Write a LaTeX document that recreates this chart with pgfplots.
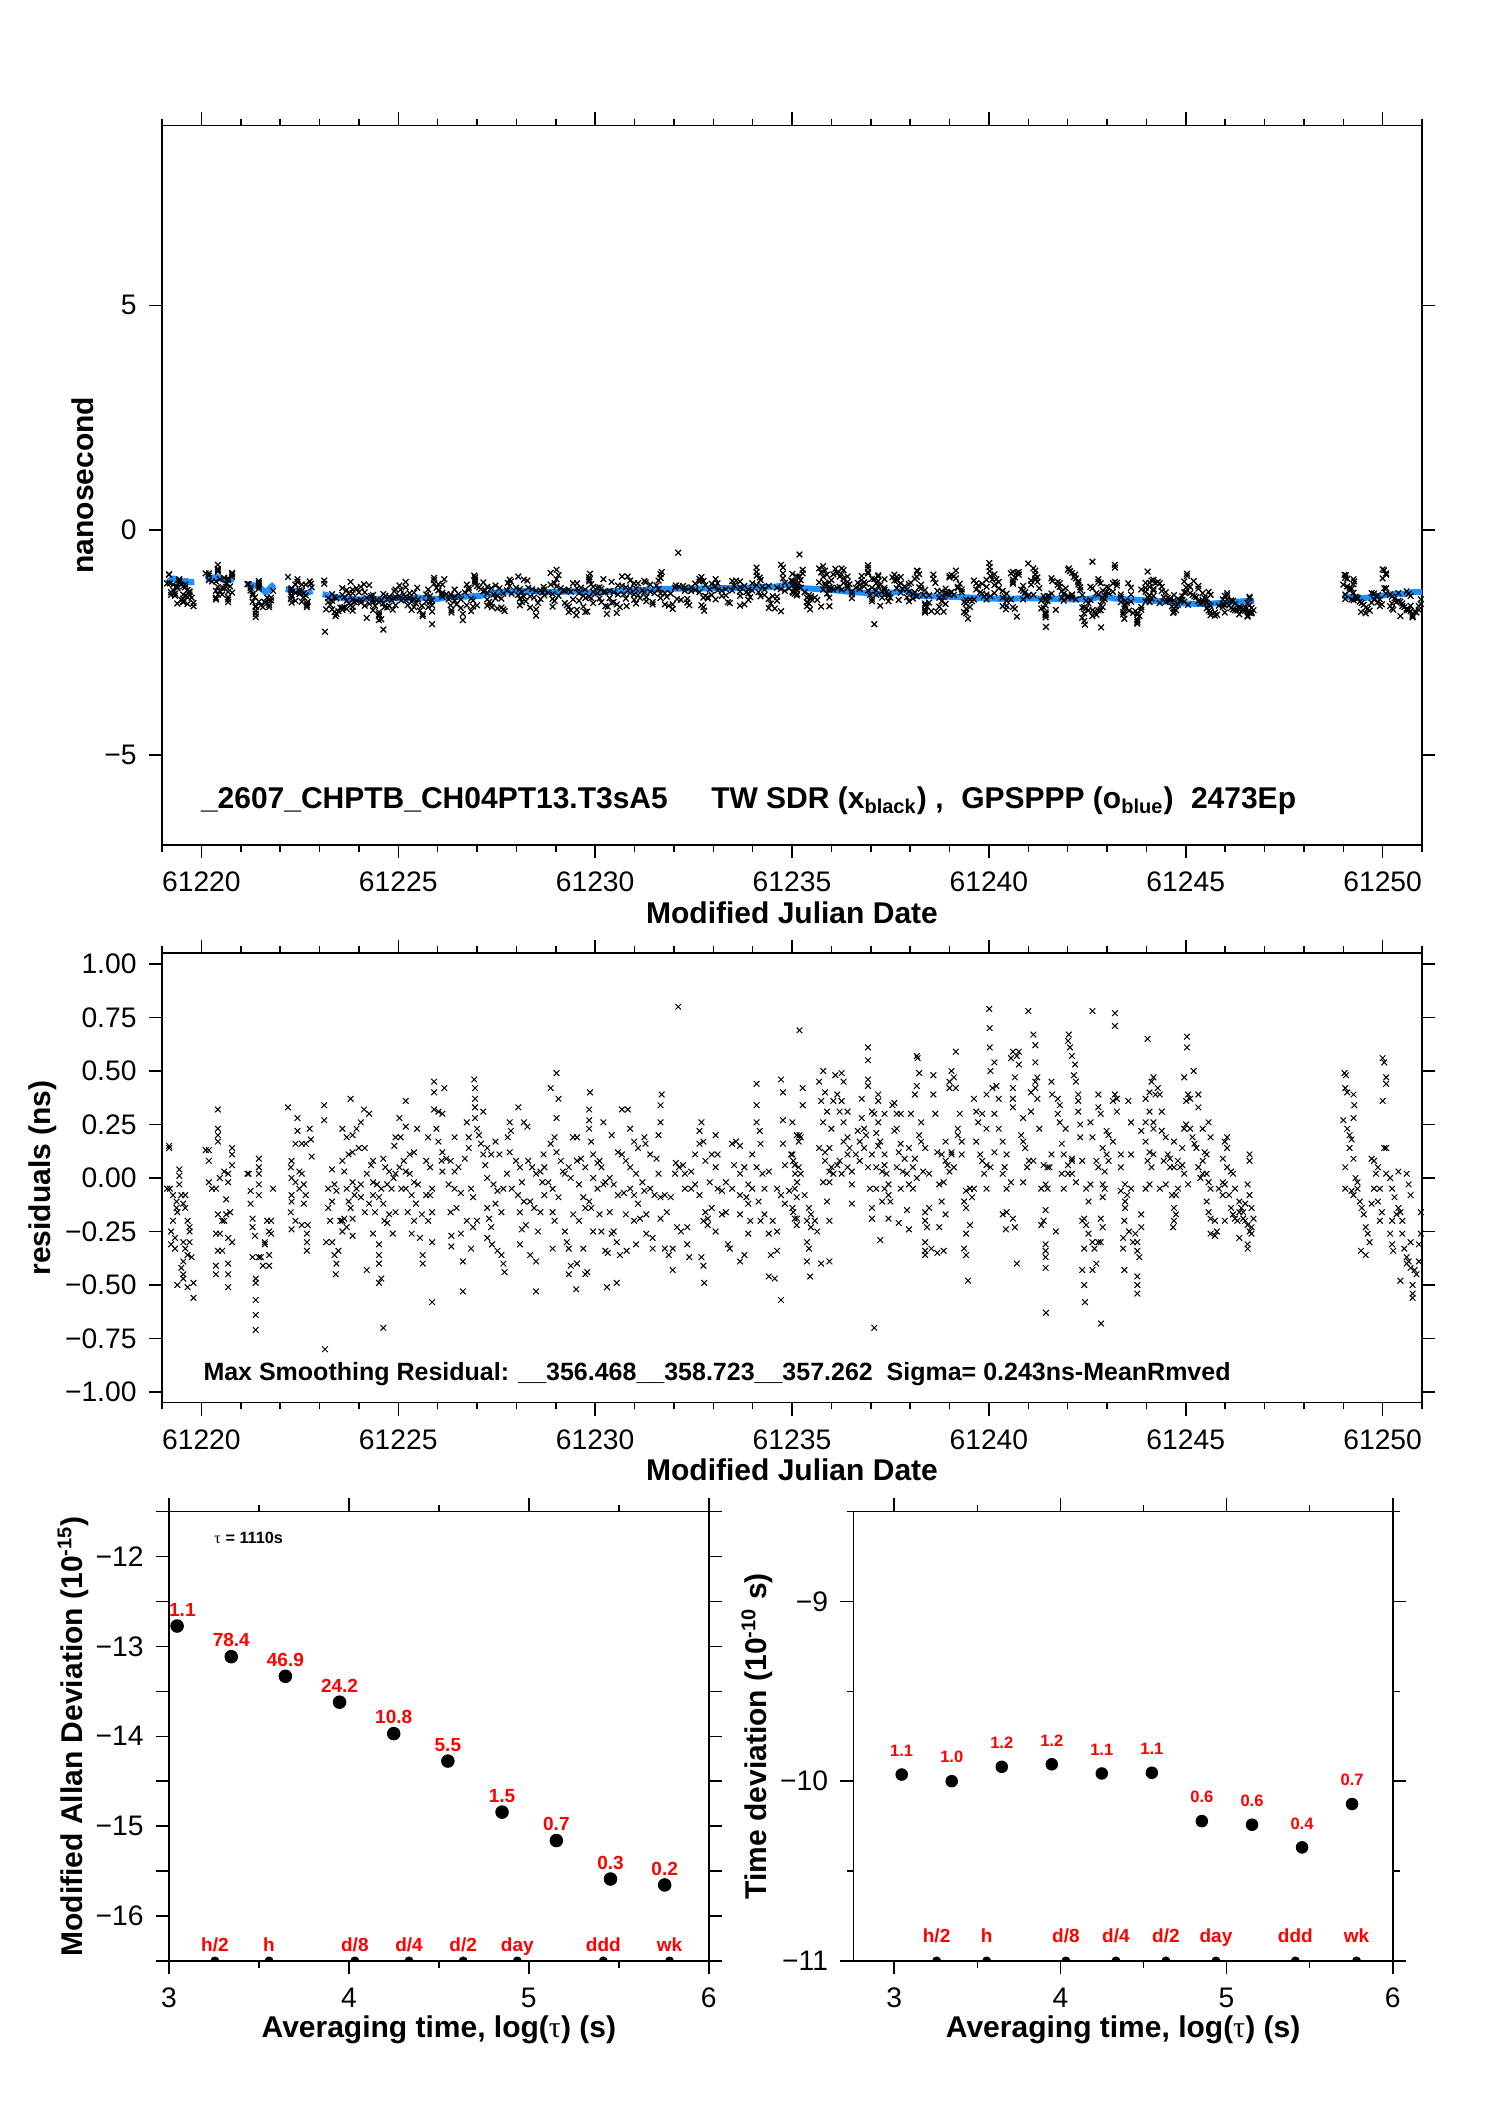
\documentclass[border=0pt]{standalone}
\usepackage{pgfplots}
\pgfplotsset{compat=1.18}
\usepackage{pgfplotstable}
\usepackage{fontspec}
\setmainfont{Liberation Sans}
\newfontfamily\serifg{Liberation Serif}
\definecolor{dodger}{RGB}{30,144,255}

% x = MJD, r = residual (ns), s = smoothed GPSPPP level (ns) at that epoch
\pgfplotstableread{
x r s
61219.18 0.15 -1.13
61219.18 0.14 -1.13
61219.13 -0.05 -1.13
61219.20 -0.05 -1.13
61219.28 -0.08 -1.13
61219.37 -0.11 -1.13
61219.37 -0.14 -1.13
61219.39 -0.16 -1.13
61219.28 -0.20 -1.13
61219.23 -0.25 -1.13
61219.33 -0.28 -1.13
61219.23 -0.31 -1.13
61219.33 -0.33 -1.13
61219.44 0.04 -1.13
61219.44 0.01 -1.13
61219.44 -0.03 -1.13
61219.49 -0.08 -1.13
61219.54 -0.12 -1.13
61219.59 -0.14 -1.13
61219.59 -0.08 -1.13
61219.65 -0.20 -1.13
61219.70 -0.23 -1.13
61219.70 -0.25 -1.13
61219.54 -0.30 -1.13
61219.59 -0.33 -1.13
61219.65 -0.36 -1.13
61219.54 -0.39 -1.13
61219.49 -0.42 -1.13
61219.54 -0.45 -1.13
61219.54 -0.47 -1.13
61219.39 -0.50 -1.13
61219.65 -0.51 -1.13
61219.80 -0.49 -1.13
61219.80 -0.56 -1.13
61219.75 -0.37 -1.13
61219.70 -0.30 -1.13
61220.42 0.32 -1.09
61220.42 0.23 -1.09
61220.42 0.20 -1.09
61220.42 0.17 -1.09
61220.19 0.13 -1.09
61220.19 0.08 -1.09
61220.19 -0.02 -1.09
61220.27 -0.05 -1.09
61220.37 -0.05 -1.09
61220.47 0.00 -1.09
61220.58 0.03 -1.09
61220.68 0.02 -1.09
61220.78 0.14 -1.09
61220.78 0.11 -1.09
61220.78 0.06 -1.09
61220.68 -0.02 -1.09
61220.63 -0.10 -1.09
61220.73 -0.16 -1.09
61220.63 -0.17 -1.09
61220.42 -0.17 -1.09
61220.53 -0.20 -1.09
61220.37 -0.26 -1.09
61220.47 -0.26 -1.09
61220.53 -0.34 -1.09
61220.42 -0.34 -1.09
61220.68 -0.28 -1.09
61220.78 -0.30 -1.09
61220.37 -0.41 -1.09
61220.37 -0.45 -1.09
61220.68 -0.40 -1.09
61220.68 -0.45 -1.09
61220.68 -0.51 -1.09
61220.58 -0.20 -1.09
61220.11 0.13 -1.09
61221.20 0.02 -1.22
61221.17 0.02 -1.22
61221.46 0.09 -1.22
61221.46 0.05 -1.22
61221.46 0.02 -1.22
61221.46 -0.03 -1.22
61221.46 -0.08 -1.22
61221.25 -0.06 -1.22
61221.25 -0.12 -1.22
61221.30 -0.19 -1.22
61221.30 -0.23 -1.22
61221.36 -0.27 -1.22
61221.30 -0.37 -1.22
61221.38 -0.47 -1.22
61221.38 -0.49 -1.22
61221.38 -0.57 -1.22
61221.38 -0.64 -1.22
61221.38 -0.71 -1.22
61221.51 -0.37 -1.30
61221.56 -0.41 -1.30
61221.61 -0.30 -1.30
61221.67 -0.20 -1.30
61221.72 -0.25 -1.30
61221.77 -0.20 -1.30
61221.77 -0.26 -1.30
61221.61 -0.31 -1.30
61221.72 -0.36 -1.30
61221.46 -0.37 -1.22
61221.72 -0.41 -1.30
61221.82 -0.05 -1.30
61222.20 0.33 -1.37
61222.44 0.28 -1.37
61222.44 0.22 -1.37
61222.39 0.16 -1.37
61222.55 0.16 -1.37
61222.65 0.16 -1.37
61222.75 0.23 -1.37
61222.78 0.18 -1.37
61222.80 0.10 -1.37
61222.29 0.08 -1.37
61222.27 0.05 -1.37
61222.29 0.00 -1.37
61222.39 -0.02 -1.37
61222.49 -0.05 -1.37
61222.49 0.03 -1.37
61222.55 0.02 -1.37
61222.60 -0.03 -1.37
61222.65 -0.08 -1.37
61222.60 -0.12 -1.37
61222.29 -0.08 -1.37
61222.29 -0.11 -1.37
61222.27 -0.16 -1.37
61222.29 -0.24 -1.37
61222.39 -0.20 -1.37
61222.55 -0.22 -1.37
61222.70 -0.22 -1.37
61222.68 -0.26 -1.37
61222.68 -0.30 -1.37
61222.68 -0.34 -1.37
61223.12 0.34 -1.46
61223.12 0.27 -1.46
61223.14 -0.80 -1.46
61223.22 -0.05 -1.46
61223.22 -0.14 -1.46
61223.17 -0.30 -1.46
61223.27 -0.20 -1.46
61223.32 -0.30 -1.46
61223.38 -0.36 -1.46
61223.43 -0.40 -1.46
61223.48 -0.34 -1.46
61223.41 -0.45 -1.46
61223.32 -0.11 -1.46
61223.38 -0.03 -1.46
61223.43 -0.06 -1.46
61223.32 0.04 -1.46
61223.53 -0.20 -1.52
61223.58 -0.25 -1.52
61223.63 -0.19 -1.52
61223.58 0.23 -1.52
61223.69 0.19 -1.52
61223.79 0.37 -1.52
61223.84 0.20 -1.52
61223.94 0.23 -1.52
61224.05 0.26 -1.52
61223.58 0.08 -1.52
61223.74 0.11 -1.52
61223.84 0.12 -1.52
61224.00 0.14 -1.52
61223.63 0.03 -1.52
61223.69 -0.05 -1.52
61223.84 -0.02 -1.52
61223.94 -0.05 -1.52
61224.05 -0.03 -1.52
61223.74 -0.11 -1.52
61223.89 -0.08 -1.52
61224.05 -0.09 -1.52
61223.84 -0.19 -1.52
61223.84 -0.27 -1.52
61223.69 -0.23 -1.52
61223.58 -0.20 -1.52
61223.79 -0.14 -1.52
61224.13 0.32 -1.52
61224.26 0.30 -1.52
61224.15 0.14 -1.52
61224.31 0.06 -1.52
61224.36 0.08 -1.52
61224.20 0.02 -1.52
61224.36 -0.02 -1.52
61224.46 -0.03 -1.52
61224.36 -0.08 -1.52
61224.26 -0.12 -1.52
61224.15 -0.16 -1.52
61224.41 -0.16 -1.52
61224.51 -0.09 -1.51
61224.57 -0.05 -1.51
61224.36 -0.26 -1.52
61224.20 -0.43 -1.52
61224.51 -0.31 -1.51
61224.51 -0.36 -1.51
61224.51 -0.40 -1.51
61224.57 -0.47 -1.51
61224.51 -0.49 -1.51
61224.62 -0.70 -1.51
61224.62 0.09 -1.51
61224.67 0.05 -1.51
61224.77 0.03 -1.51
61224.88 0.00 -1.51
61224.93 0.02 -1.51
61225.03 0.05 -1.51
61224.72 -0.03 -1.51
61224.83 -0.05 -1.51
61224.62 -0.12 -1.51
61224.77 -0.17 -1.51
61224.65 -0.20 -1.51
61224.72 -0.21 -1.51
61224.86 -0.26 -1.51
61224.93 -0.16 -1.51
61225.08 -0.05 -1.51
61225.06 0.19 -1.51
61225.03 0.28 -1.51
61225.19 0.36 -1.51
61224.93 0.19 -1.51
61224.90 0.15 -1.51
61225.14 0.08 -1.51
61225.19 0.03 -1.51
61225.29 0.02 -1.51
61225.40 -0.02 -1.51
61225.50 -0.03 -1.51
61225.19 -0.05 -1.51
61225.34 -0.08 -1.51
61225.45 -0.12 -1.51
61225.24 -0.16 -1.51
61225.40 -0.20 -1.51
61225.60 -0.17 -1.51
61225.34 -0.26 -1.51
61225.55 -0.28 -1.51
61225.62 -0.36 -1.51
61225.62 -0.40 -1.51
61225.29 0.11 -1.51
61225.40 0.12 -1.51
61225.48 0.23 -1.51
61225.19 0.24 -1.51
61225.76 0.19 -1.51
61225.71 0.08 -1.51
61225.81 0.05 -1.51
61225.86 -0.05 -1.51
61225.91 0.45 -1.51
61225.91 0.40 -1.51
61225.91 0.32 -1.51
61226.02 0.31 -1.51
61226.12 0.30 -1.51
61225.97 0.23 -1.51
61226.02 0.17 -1.51
61226.10 0.08 -1.51
61226.12 0.03 -1.51
61225.86 -0.16 -1.51
61225.71 -0.08 -1.51
61225.81 -0.08 -1.51
61225.86 -0.30 -1.51
61225.86 -0.58 -1.51
61225.76 -0.20 -1.51
61226.17 0.42 -1.51
61226.12 0.12 -1.51
61226.22 0.09 -1.51
61226.33 0.08 -1.51
61226.43 0.03 -1.51
61226.53 0.05 -1.47
61226.28 -0.03 -1.51
61226.43 -0.05 -1.51
61226.59 -0.07 -1.47
61226.33 -0.16 -1.51
61226.35 -0.27 -1.51
61226.35 -0.32 -1.51
61226.48 -0.14 -1.51
61226.59 -0.26 -1.47
61226.64 -0.39 -1.47
61226.64 -0.53 -1.47
61226.43 0.19 -1.51
61226.69 0.09 -1.47
61226.74 0.26 -1.47
61226.79 0.19 -1.47
61226.79 0.14 -1.47
61226.93 0.46 -1.47
61226.95 0.42 -1.47
61226.95 0.37 -1.47
61226.95 0.33 -1.47
61226.95 0.28 -1.47
61227.00 0.23 -1.47
61227.05 0.20 -1.47
61227.10 0.16 -1.47
61227.16 0.11 -1.47
61226.85 -0.05 -1.47
61226.90 -0.09 -1.47
61226.74 -0.20 -1.47
61226.90 -0.23 -1.47
61226.85 -0.33 -1.47
61227.00 -0.20 -1.47
61227.16 0.31 -1.47
61227.21 0.06 -1.40
61227.26 0.14 -1.40
61227.36 0.11 -1.40
61227.47 0.17 -1.40
61227.57 0.11 -1.40
61227.26 0.00 -1.40
61227.42 -0.03 -1.40
61227.52 -0.06 -1.40
61227.67 -0.05 -1.36
61227.26 -0.14 -1.40
61227.31 -0.19 -1.40
61227.36 -0.23 -1.40
61227.26 -0.28 -1.40
61227.38 -0.31 -1.40
61227.52 -0.34 -1.40
61227.62 -0.36 -1.36
61227.67 -0.40 -1.36
61227.70 -0.44 -1.36
61227.62 -0.16 -1.36
61227.47 -0.12 -1.40
61227.76 0.02 -1.36
61227.83 0.12 -1.36
61227.86 0.22 -1.36
61227.83 0.26 -1.36
61228.05 0.33 -1.36
61227.99 0.08 -1.36
61228.09 0.05 -1.36
61228.14 -0.02 -1.36
61227.78 0.19 -1.36
61227.88 -0.05 -1.36
61228.04 -0.08 -1.36
61228.19 -0.11 -1.36
61228.09 -0.16 -1.36
61228.09 -0.31 -1.36
61228.14 -0.24 -1.36
61228.24 -0.22 -1.36
61228.19 0.26 -1.36
61228.28 0.24 -1.36
61228.50 -0.53 -1.37
61228.30 0.08 -1.36
61228.40 0.05 -1.36
61228.50 0.02 -1.37
61228.61 0.03 -1.37
61228.71 0.05 -1.37
61228.35 -0.11 -1.36
61228.45 -0.14 -1.36
61228.55 -0.25 -1.37
61228.35 -0.36 -1.36
61228.50 -0.39 -1.37
61228.61 -0.16 -1.37
61228.71 -0.08 -1.37
61228.66 -0.02 -1.37
61228.69 0.11 -1.37
61228.87 0.42 -1.37
61229.02 0.49 -1.37
61229.07 0.37 -1.37
61229.02 0.28 -1.37
61228.87 0.16 -1.37
61228.97 0.19 -1.37
61229.02 0.12 -1.37
61229.13 0.08 -1.37
61229.18 0.03 -1.37
61228.81 -0.02 -1.37
61228.92 -0.05 -1.37
61229.07 -0.09 -1.37
61229.23 0.02 -1.37
61228.92 -0.16 -1.37
61228.97 -0.20 -1.37
61228.92 -0.33 -1.37
61229.23 -0.25 -1.37
61229.28 -0.30 -1.37
61229.33 -0.33 -1.37
61229.33 -0.45 -1.37
61229.38 -0.41 -1.37
61229.54 -0.40 -1.37
61229.52 -0.52 -1.37
61229.44 0.19 -1.37
61229.54 0.19 -1.37
61229.54 0.08 -1.37
61229.64 0.09 -1.37
61229.75 0.05 -1.37
61229.33 0.05 -1.37
61229.38 0.00 -1.37
61229.59 -0.03 -1.37
61229.70 -0.09 -1.37
61229.75 -0.14 -1.37
61229.44 -0.17 -1.37
61229.59 -0.20 -1.37
61229.70 -0.33 -1.37
61229.75 -0.45 -1.37
61229.80 -0.44 -1.37
61229.87 0.40 -1.37
61229.85 0.32 -1.37
61229.85 0.27 -1.37
61229.85 0.23 -1.37
61229.90 0.17 -1.37
61229.95 0.11 -1.37
61230.06 0.07 -1.35
61230.16 0.05 -1.35
61230.11 0.08 -1.35
61229.95 0.00 -1.37
61230.06 -0.05 -1.35
61230.21 -0.03 -1.35
61229.85 -0.11 -1.37
61229.90 -0.14 -1.37
61230.11 -0.17 -1.35
61229.95 -0.25 -1.37
61230.16 -0.25 -1.35
61230.21 0.26 -1.35
61230.26 -0.34 -1.35
61230.32 -0.35 -1.35
61230.30 -0.51 -1.35
61230.26 -0.02 -1.35
61230.42 0.20 -1.35
61230.58 0.12 -1.35
61230.68 0.32 -1.35
61230.83 0.32 -1.35
61230.68 0.11 -1.35
61230.78 0.08 -1.35
61230.37 0.00 -1.35
61230.47 -0.03 -1.35
61230.58 -0.08 -1.35
61230.73 -0.07 -1.35
61230.37 -0.16 -1.35
61230.47 -0.25 -1.35
61230.55 -0.30 -1.35
61230.63 -0.36 -1.35
61230.55 -0.49 -1.35
61230.42 -0.26 -1.35
61230.78 -0.17 -1.35
61230.89 0.23 -1.35
61230.99 0.17 -1.35
61231.09 0.14 -1.32
61231.25 0.19 -1.32
61231.28 0.16 -1.32
61230.89 0.05 -1.35
61231.04 0.02 -1.32
61231.20 -0.02 -1.32
61230.89 -0.05 -1.35
61230.99 -0.08 -1.35
61231.09 -0.12 -1.32
61231.25 -0.06 -1.32
61230.99 -0.20 -1.35
61231.14 -0.19 -1.32
61231.30 -0.17 -1.32
61231.04 -0.31 -1.32
61230.80 -0.34 -1.35
61231.30 -0.26 -1.32
61231.40 0.11 -1.32
61231.56 0.09 -1.32
61231.61 0.20 -1.32
61231.66 0.26 -1.32
61231.66 0.34 -1.32
61231.69 0.39 -1.32
61231.40 -0.05 -1.32
61231.51 -0.08 -1.32
61231.61 0.02 -1.32
61231.66 -0.09 -1.32
61231.77 -0.08 -1.32
61231.46 -0.28 -1.32
61231.46 -0.33 -1.32
61231.66 -0.19 -1.32
61231.82 -0.16 -1.32
61231.77 -0.33 -1.32
61231.87 -0.36 -1.32
61231.97 -0.33 -1.32
61231.97 -0.43 -1.32
61232.03 0.02 -1.30
61232.11 0.80 -1.30
61232.05 0.07 -1.30
61232.13 0.05 -1.30
61232.23 0.06 -1.30
61232.28 -0.05 -1.30
61231.92 -0.09 -1.32
61232.08 -0.23 -1.30
61232.18 -0.25 -1.30
61232.34 -0.23 -1.30
61232.34 -0.31 -1.30
61232.39 -0.37 -1.30
61232.28 0.02 -1.30
61232.44 -0.05 -1.30
61232.54 0.11 -1.30
61232.65 0.16 -1.30
61232.70 0.26 -1.30
61232.65 0.22 -1.30
61232.75 0.17 -1.30
61232.80 0.08 -1.30
61232.44 0.03 -1.30
61232.54 -0.03 -1.30
61232.65 -0.08 -1.30
61232.80 -0.16 -1.30
61232.75 -0.20 -1.30
61232.86 -0.22 -1.30
61232.70 -0.37 -1.30
61232.75 -0.41 -1.30
61232.77 -0.49 -1.30
61232.96 0.11 -1.30
61233.06 0.20 -1.29
61233.11 0.11 -1.29
61233.06 0.05 -1.29
61232.91 -0.02 -1.30
61233.11 -0.05 -1.29
61233.22 -0.06 -1.29
61233.32 -0.02 -1.29
61232.96 -0.14 -1.30
61232.86 -0.19 -1.30
61233.06 -0.25 -1.29
61233.22 -0.17 -1.29
61233.32 -0.16 -1.29
61233.37 -0.31 -1.29
61233.42 -0.33 -1.29
61233.48 0.16 -1.29
61233.58 0.17 -1.29
61233.68 0.15 -1.29
61233.79 0.05 -1.29
61233.53 0.06 -1.29
61233.68 0.02 -1.29
61233.89 -0.03 -1.29
61233.48 -0.05 -1.29
61233.68 -0.08 -1.29
61233.84 -0.09 -1.29
61233.89 -0.12 -1.29
61233.68 -0.17 -1.29
61233.94 -0.20 -1.29
61233.89 -0.26 -1.29
61233.79 -0.36 -1.29
61233.68 -0.39 -1.29
61234.10 0.44 -1.27
61234.10 0.34 -1.27
61234.10 0.26 -1.27
61234.18 0.22 -1.27
61234.20 0.16 -1.27
61233.99 0.11 -1.29
61234.10 0.05 -1.27
61234.25 0.02 -1.27
61234.30 -0.05 -1.27
61234.41 0.03 -1.27
61233.99 -0.05 -1.29
61234.15 -0.11 -1.27
61234.30 -0.17 -1.27
61234.20 -0.20 -1.27
61234.41 -0.26 -1.27
61234.46 -0.36 -1.27
61234.41 -0.46 -1.27
61234.56 -0.47 -1.27
61234.62 -0.34 -1.23
61234.72 0.46 -1.23
61234.77 0.40 -1.23
61234.77 0.27 -1.23
61234.77 0.16 -1.23
61234.82 0.06 -1.23
61234.98 0.11 -1.23
61235.03 0.08 -1.23
61235.08 0.02 -1.23
61235.19 0.20 -1.23
61235.13 -0.02 -1.23
61234.62 -0.05 -1.23
61234.72 -0.08 -1.23
61234.82 -0.12 -1.23
61234.93 -0.06 -1.23
61235.03 -0.16 -1.23
61235.13 -0.19 -1.23
61234.72 -0.57 -1.23
61235.19 0.69 -1.23
61234.51 -0.20 -1.27
61234.62 -0.25 -1.23
61235.01 0.26 -1.23
61235.12 0.20 -1.23
61235.22 0.19 -1.30
61235.17 0.17 -1.23
61235.27 0.42 -1.30
61235.27 0.34 -1.30
61235.01 0.11 -1.23
61235.07 0.06 -1.23
61235.17 0.05 -1.23
61235.22 0.02 -1.30
61235.07 -0.05 -1.23
61235.12 -0.09 -1.23
61235.01 -0.14 -1.23
61235.07 -0.19 -1.23
61235.12 -0.22 -1.23
61235.32 -0.08 -1.30
61235.43 -0.14 -1.30
61235.48 -0.17 -1.30
61235.38 -0.20 -1.30
61235.48 -0.23 -1.30
61235.38 -0.30 -1.30
61235.43 -0.33 -1.30
61235.38 -0.39 -1.30
61235.46 -0.46 -1.30
61235.58 -0.20 -1.30
61235.64 -0.25 -1.30
61235.69 0.45 -1.30
61235.79 0.50 -1.30
61235.84 0.40 -1.30
61235.74 0.36 -1.30
61235.89 0.31 -1.30
61235.79 0.26 -1.30
61236.00 0.23 -1.34
61235.69 0.14 -1.30
61235.84 0.12 -1.30
61235.95 0.14 -1.30
61235.84 0.08 -1.30
61235.95 0.03 -1.30
61235.79 -0.02 -1.30
61235.95 -0.02 -1.30
61236.00 0.05 -1.34
61235.89 -0.11 -1.30
61235.95 -0.20 -1.30
61235.74 -0.40 -1.30
61235.95 -0.39 -1.30
61236.05 0.36 -1.34
61236.15 0.39 -1.34
61236.21 0.31 -1.34
61236.10 0.48 -1.34
61236.26 0.49 -1.34
61236.31 0.45 -1.34
61236.26 0.36 -1.34
61236.31 0.26 -1.34
61236.41 0.31 -1.34
61236.31 0.17 -1.34
61236.41 0.11 -1.34
61236.46 0.14 -1.34
61236.21 0.08 -1.34
61236.05 0.02 -1.34
61236.15 0.06 -1.34
61236.26 0.02 -1.34
61236.41 0.05 -1.34
61236.52 0.03 -1.39
61236.52 -0.03 -1.39
61236.52 -0.12 -1.39
61236.41 0.19 -1.34
61236.67 0.22 -1.39
61236.77 0.28 -1.39
61236.83 0.23 -1.39
61236.88 0.20 -1.39
61236.93 0.61 -1.39
61236.93 0.55 -1.39
61236.93 0.46 -1.39
61236.93 0.43 -1.39
61236.72 0.17 -1.39
61236.83 0.14 -1.39
61236.62 0.11 -1.39
61236.72 0.08 -1.39
61236.93 0.05 -1.39
61237.03 0.11 -1.39
61236.98 -0.05 -1.39
61237.03 -0.14 -1.39
61237.03 -0.19 -1.39
61237.09 -0.70 -1.39
61237.03 0.31 -1.39
61236.77 0.37 -1.39
61237.19 0.39 -1.39
61237.19 0.36 -1.39
61237.09 0.30 -1.39
61237.19 0.26 -1.39
61237.35 0.30 -1.39
61237.14 0.21 -1.39
61237.24 0.17 -1.39
61237.19 0.15 -1.39
61237.35 0.11 -1.39
61237.35 0.06 -1.39
61237.14 0.05 -1.39
61237.29 0.03 -1.39
61237.40 0.02 -1.39
61237.45 -0.03 -1.39
61237.35 -0.05 -1.39
61237.45 -0.08 -1.39
61237.50 -0.11 -1.39
61237.29 -0.11 -1.39
61237.24 -0.29 -1.39
61237.45 -0.19 -1.39
61237.14 -0.05 -1.39
61237.55 0.34 -1.39
61237.60 0.35 -1.34
61237.66 0.30 -1.34
61237.76 0.30 -1.34
61237.66 0.23 -1.34
61237.76 0.16 -1.34
61237.60 0.22 -1.34
61237.71 0.12 -1.34
61237.86 0.09 -1.34
61237.97 0.14 -1.34
61237.66 0.05 -1.34
61237.81 0.03 -1.34
61237.92 0.02 -1.34
61237.76 -0.05 -1.34
61237.97 -0.03 -1.34
61238.07 -0.05 -1.47
61237.92 -0.15 -1.34
61237.71 -0.21 -1.34
61237.97 -0.24 -1.34
61238.07 0.05 -1.47
61238.02 0.30 -1.47
61238.12 0.39 -1.47
61238.17 0.57 -1.47
61238.19 0.56 -1.47
61238.23 0.49 -1.47
61238.17 0.43 -1.47
61238.28 0.26 -1.47
61238.28 0.17 -1.47
61238.23 0.20 -1.47
61238.38 0.14 -1.47
61238.12 0.09 -1.47
61238.33 0.03 -1.47
61238.48 0.02 -1.47
61238.17 0.00 -1.47
61238.38 -0.16 -1.47
61238.48 -0.14 -1.47
61238.38 -0.20 -1.47
61238.43 -0.23 -1.47
61238.38 -0.30 -1.47
61238.38 -0.34 -1.47
61238.38 -0.36 -1.47
61238.54 -0.33 -1.47
61238.59 0.48 -1.47
61238.59 0.39 -1.47
61238.64 0.30 -1.47
61238.69 0.12 -1.47
61238.80 0.11 -1.47
61238.90 0.17 -1.47
61239.00 0.42 -1.47
61239.00 0.45 -1.47
61239.05 0.50 -1.49
61239.11 0.47 -1.49
61239.16 0.59 -1.49
61239.05 0.12 -1.49
61238.90 0.08 -1.47
61239.00 0.03 -1.47
61239.11 0.05 -1.49
61238.74 -0.03 -1.47
61238.85 -0.02 -1.47
61238.80 -0.11 -1.47
61238.90 -0.17 -1.47
61238.69 -0.35 -1.47
61238.85 -0.34 -1.47
61238.95 0.06 -1.47
61238.74 -0.23 -1.47
61239.16 0.42 -1.49
61239.21 0.23 -1.49
61239.26 0.30 -1.49
61239.21 0.20 -1.49
61239.31 0.17 -1.49
61239.05 0.11 -1.49
61239.31 0.11 -1.49
61239.42 -0.06 -1.49
61239.52 -0.05 -1.49
61239.37 -0.11 -1.49
61239.42 -0.14 -1.49
61239.52 -0.22 -1.49
61239.42 -0.26 -1.49
61239.37 -0.33 -1.49
61239.42 -0.36 -1.49
61239.47 -0.48 -1.49
61239.57 -0.09 -1.49
61239.62 -0.05 -1.49
61239.68 0.17 -1.49
61239.62 0.37 -1.49
61239.68 0.31 -1.49
61239.73 0.26 -1.49
61239.83 0.30 -1.49
61239.94 0.39 -1.49
61239.94 0.23 -1.49
61240.04 0.50 -1.52
61240.02 0.61 -1.52
61240.02 0.70 -1.52
61240.01 0.79 -1.52
61239.78 0.11 -1.49
61239.83 0.08 -1.49
61239.94 0.06 -1.49
61239.88 0.02 -1.49
61240.04 0.05 -1.52
61240.14 0.12 -1.52
61240.09 0.42 -1.52
61240.19 0.43 -1.52
61240.25 0.37 -1.52
61240.14 0.54 -1.52
61239.94 -0.05 -1.49
61240.14 0.30 -1.52
61240.25 0.23 -1.52
61240.35 0.17 -1.52
61240.45 0.11 -1.52
61240.40 0.05 -1.52
61240.35 0.02 -1.52
61240.45 -0.05 -1.52
61240.56 -0.02 -1.52
61240.35 -0.17 -1.52
61240.45 -0.16 -1.52
61240.61 -0.19 -1.52
61240.43 -0.24 -1.52
61240.66 -0.23 -1.52
61240.71 -0.40 -1.52
61240.61 0.42 -1.52
61240.61 0.37 -1.52
61240.61 0.33 -1.52
61240.61 0.59 -1.52
61240.56 0.56 -1.52
61240.66 0.47 -1.52
61240.76 0.59 -1.52
61240.76 0.53 -1.52
61240.87 0.28 -1.52
61240.82 0.20 -1.52
61240.92 0.14 -1.52
61240.87 0.17 -1.52
61241.02 0.08 -1.52
61241.13 0.08 -1.52
61240.97 0.05 -1.52
61241.07 0.31 -1.52
61241.18 0.42 -1.52
61241.18 0.45 -1.52
61241.18 0.54 -1.52
61241.23 0.47 -1.52
61241.18 0.62 -1.52
61241.13 0.67 -1.52
61241.00 0.78 -1.52
61241.07 0.40 -1.52
61240.71 0.57 -1.52
61240.87 -0.02 -1.52
61241.23 0.37 -1.52
61241.28 0.23 -1.52
61241.39 0.06 -1.52
61241.49 0.05 -1.52
61241.33 -0.05 -1.52
61241.44 -0.03 -1.52
61241.54 0.05 -1.52
61241.59 0.11 -1.52
61241.49 -0.05 -1.52
61241.44 -0.15 -1.52
61241.39 -0.20 -1.52
61241.33 -0.22 -1.52
61241.44 -0.31 -1.52
61241.44 -0.34 -1.52
61241.44 -0.37 -1.52
61241.44 -0.42 -1.52
61241.45 -0.63 -1.52
61241.59 0.45 -1.52
61241.61 0.39 -1.52
61241.70 -0.25 -1.52
61241.75 0.30 -1.52
61241.75 0.37 -1.52
61241.80 0.34 -1.52
61241.80 0.26 -1.52
61241.85 0.16 -1.52
61241.90 0.11 -1.52
61242.01 0.06 -1.52
61242.11 0.09 -1.52
61241.85 0.02 -1.52
61242.01 0.02 -1.52
61242.11 0.08 -1.52
61242.21 -0.02 -1.52
61242.16 0.48 -1.52
61242.21 0.45 -1.52
61242.19 0.53 -1.52
61242.11 0.57 -1.52
61242.03 0.67 -1.52
61242.01 0.64 -1.52
61242.06 0.61 -1.52
61241.95 0.23 -1.52
61241.90 -0.05 -1.52
61242.11 0.02 -1.52
61242.27 0.39 -1.52
61242.27 0.36 -1.52
61242.27 0.31 -1.52
61242.32 0.25 -1.52
61242.32 0.19 -1.52
61242.37 0.08 -1.52
61242.47 -0.05 -1.52
61242.58 -0.03 -1.52
61242.53 -0.11 -1.52
61242.42 -0.19 -1.52
61242.37 -0.20 -1.52
61242.47 -0.22 -1.52
61242.53 -0.26 -1.52
61242.42 -0.33 -1.52
61242.37 -0.43 -1.52
61242.42 -0.50 -1.52
61242.44 -0.58 -1.52
61242.58 0.26 -1.52
61242.63 0.19 -1.48
61242.73 0.08 -1.48
61242.63 -0.30 -1.48
61242.78 0.33 -1.48
61242.78 0.39 -1.48
61242.84 0.30 -1.48
61242.99 0.22 -1.48
61243.04 0.20 -1.48
61243.15 0.17 -1.54
61243.15 0.36 -1.54
61243.25 0.37 -1.54
61243.20 0.39 -1.54
61243.25 0.31 -1.54
61242.89 0.14 -1.48
61242.99 0.11 -1.48
61243.04 0.08 -1.48
61242.94 0.03 -1.48
61242.78 0.05 -1.48
61242.89 -0.03 -1.48
61242.94 -0.05 -1.48
61242.89 -0.09 -1.48
61242.84 -0.19 -1.48
61242.89 -0.23 -1.48
61242.84 -0.30 -1.48
61242.78 -0.30 -1.48
61242.68 -0.33 -1.48
61242.73 -0.40 -1.48
61242.63 -0.43 -1.48
61242.85 -0.68 -1.48
61242.63 0.78 -1.48
61243.20 0.77 -1.54
61243.20 0.71 -1.54
61243.35 0.11 -1.54
61243.35 0.05 -1.54
61243.46 -0.03 -1.54
61243.35 -0.06 -1.54
61243.51 -0.08 -1.54
61243.46 -0.11 -1.54
61243.61 -0.05 -1.54
61243.46 -0.14 -1.54
61243.44 -0.20 -1.54
61243.41 -0.28 -1.54
61243.41 -0.33 -1.54
61243.56 -0.25 -1.54
61243.66 -0.30 -1.54
61243.72 -0.26 -1.54
61243.77 -0.30 -1.54
61243.77 -0.34 -1.54
61243.82 -0.37 -1.54
61243.77 -0.46 -1.54
61243.77 -0.50 -1.54
61243.77 -0.54 -1.54
61243.44 -0.43 -1.54
61243.54 0.36 -1.54
61243.61 0.26 -1.54
61243.61 0.11 -1.54
61243.87 0.22 -1.54
61243.98 0.26 -1.54
61244.03 0.65 -1.57
61243.98 0.37 -1.54
61244.08 0.40 -1.57
61244.18 0.47 -1.57
61244.13 0.45 -1.57
61244.23 0.39 -1.57
61244.29 0.42 -1.57
61244.08 0.31 -1.57
61244.18 0.26 -1.57
61244.18 0.23 -1.57
61243.98 0.17 -1.54
61244.08 0.12 -1.57
61244.03 0.08 -1.57
61243.98 -0.05 -1.54
61244.13 0.05 -1.57
61243.87 -0.17 -1.54
61244.08 -0.03 -1.57
61243.87 -0.23 -1.54
61244.18 0.11 -1.57
61244.34 0.39 -1.57
61244.39 0.31 -1.57
61244.39 0.22 -1.57
61244.49 0.19 -1.57
61244.54 0.11 -1.61
61244.60 0.09 -1.61
61244.44 0.08 -1.57
61244.34 -0.05 -1.57
61244.49 -0.03 -1.57
61244.60 0.05 -1.61
61244.70 0.05 -1.61
61244.80 0.08 -1.61
61244.65 -0.08 -1.61
61244.75 -0.08 -1.61
61244.70 -0.14 -1.61
61244.75 -0.17 -1.61
61244.70 -0.20 -1.61
61244.68 -0.23 -1.61
61244.80 -0.05 -1.61
61244.70 0.17 -1.61
61244.96 0.47 -1.61
61245.03 0.66 -1.63
61245.03 0.61 -1.63
61245.20 0.50 -1.63
61245.06 0.39 -1.63
61245.01 0.36 -1.63
61245.11 0.37 -1.63
61245.32 0.39 -1.63
61245.32 0.33 -1.63
61244.96 0.23 -1.61
61245.01 0.25 -1.63
61245.11 0.23 -1.63
61245.17 0.19 -1.63
61245.22 0.16 -1.63
61245.27 0.14 -1.63
61244.91 0.14 -1.61
61244.91 0.06 -1.61
61244.96 0.02 -1.61
61245.06 -0.03 -1.63
61244.86 0.05 -1.61
61245.43 0.23 -1.63
61245.48 0.12 -1.63
61245.53 0.11 -1.63
61245.63 0.19 -1.63
61245.58 0.26 -1.63
61245.32 0.05 -1.63
61245.43 0.08 -1.63
61245.43 0.02 -1.63
61245.37 0.00 -1.63
61245.53 0.02 -1.63
61245.58 -0.02 -1.63
61245.63 -0.05 -1.63
61245.53 -0.11 -1.63
61245.58 -0.16 -1.63
61245.63 -0.19 -1.63
61245.74 -0.20 -1.63
61245.79 -0.25 -1.63
61245.63 -0.26 -1.63
61245.74 -0.27 -1.63
61245.84 -0.05 -1.63
61245.99 0.17 -1.63
61246.05 0.14 -1.59
61245.94 0.09 -1.63
61246.05 0.05 -1.59
61246.15 0.03 -1.59
61246.20 0.02 -1.59
61245.94 -0.02 -1.63
61245.99 -0.03 -1.63
61246.10 -0.08 -1.59
61246.25 -0.05 -1.59
61246.15 -0.14 -1.59
61246.20 -0.17 -1.59
61246.25 -0.19 -1.59
61246.31 -0.20 -1.59
61246.36 -0.16 -1.59
61245.99 -0.20 -1.63
61246.05 0.19 -1.59
61246.36 -0.11 -1.59
61245.94 -0.08 -1.63
61246.41 -0.14 -1.59
61246.46 -0.19 -1.59
61246.51 -0.20 -1.59
61246.57 -0.22 -1.59
61246.62 -0.25 -1.59
61246.67 -0.26 -1.59
61246.57 -0.03 -1.59
61246.62 -0.08 -1.59
61246.67 -0.14 -1.59
61246.62 0.11 -1.59
61246.62 0.08 -1.59
61246.57 -0.31 -1.59
61246.57 -0.33 -1.59
61246.46 -0.16 -1.59
61246.72 -0.19 -1.59
61246.36 -0.28 -1.59
61246.51 -0.12 -1.59
61246.67 -0.23 -1.59
61249.03 0.49 -1.48
61249.07 0.48 -1.48
61249.05 0.42 -1.48
61249.10 0.40 -1.48
61249.26 0.39 -1.48
61249.28 0.34 -1.48
61249.00 0.27 -1.48
61249.26 0.28 -1.48
61249.10 0.23 -1.48
61249.16 0.20 -1.48
61249.21 0.18 -1.48
61249.16 0.14 -1.48
61249.26 0.09 -1.48
61249.05 0.05 -1.48
61249.31 0.00 -1.48
61249.36 -0.02 -1.48
61249.05 -0.05 -1.48
61249.21 -0.06 -1.48
61249.36 -0.05 -1.48
61249.42 -0.11 -1.48
61249.26 -0.08 -1.48
61249.47 -0.14 -1.48
61249.52 -0.17 -1.49
61249.57 -0.23 -1.49
61249.62 -0.26 -1.49
61249.67 -0.30 -1.49
61249.57 -0.36 -1.49
61249.72 0.09 -1.49
61249.78 0.08 -1.49
61249.88 0.05 -1.49
61249.83 0.02 -1.49
61249.78 -0.05 -1.49
61249.93 -0.05 -1.49
61249.88 -0.11 -1.49
61249.72 -0.12 -1.49
61249.93 -0.20 -1.49
61249.98 -0.16 -1.49
61249.45 -0.34 -1.48
61250.00 0.56 -1.43
61250.04 0.54 -1.43
61250.09 0.47 -1.43
61250.09 0.44 -1.43
61250.00 0.36 -1.43
61250.04 0.14 -1.43
61250.09 0.14 -1.43
61250.09 0.02 -1.43
61250.19 0.00 -1.43
61250.24 -0.05 -1.43
61250.30 -0.09 -1.43
61250.40 -0.14 -1.43
61250.35 -0.17 -1.43
61250.24 -0.20 -1.43
61250.19 -0.26 -1.43
61250.24 -0.31 -1.43
61250.27 -0.34 -1.43
61250.45 -0.16 -1.43
61250.50 -0.20 -1.43
61250.40 0.03 -1.43
61250.45 -0.48 -1.43
61250.50 -0.26 -1.43
61250.61 0.02 -1.38
61250.66 -0.03 -1.38
61250.71 -0.08 -1.38
61250.55 -0.33 -1.38
61250.61 -0.37 -1.38
61250.66 -0.39 -1.38
61250.71 -0.42 -1.38
61250.81 -0.43 -1.38
61250.86 -0.45 -1.38
61250.76 -0.50 -1.38
61250.76 -0.54 -1.38
61250.76 -0.56 -1.38
61250.92 -0.31 -1.38
61250.97 -0.26 -1.38
61250.97 -0.16 -1.38
61250.92 -0.39 -1.38
61250.61 -0.40 -1.38
61250.71 -0.30 -1.38
}\resid

\pgfplotstableread{
x s
61219.14 -1.18
61219.22 -1.10
61219.30 -1.07
61219.40 -1.12
61219.50 -1.14
61219.62 -1.13
61219.72 -1.16
61219.82 -1.15
61219.95 nan
61220.11 -1.09
61220.25 -1.06
61220.40 -1.04
61220.50 -1.08
61220.62 -1.13
61220.72 -1.10
61220.83 -1.09
61220.95 nan
61221.13 -1.20
61221.25 -1.21
61221.40 -1.24
61221.52 -1.30
61221.64 -1.39
61221.75 -1.28
61221.85 -1.20
61221.95 nan
61222.14 -1.31
61222.30 -1.33
61222.50 -1.39
61222.65 -1.41
61222.82 -1.35
61222.95 nan
61223.08 -1.42
61223.30 -1.47
61223.54 -1.50
61223.75 -1.53
61224.05 -1.54
61224.30 -1.52
61224.55 -1.54
61224.89 -1.51
61225.20 -1.52
61225.50 -1.50
61225.74 -1.51
61226.00 -1.53
61226.16 -1.50
61226.40 -1.49
61226.59 -1.48
61226.85 -1.47
61227.09 -1.46
61227.25 -1.42
61227.43 -1.39
61227.70 -1.37
61228.00 -1.36
61228.28 -1.35
61228.60 -1.37
61228.90 -1.38
61229.12 -1.37
61229.50 -1.36
61229.97 -1.39
61230.30 -1.36
61230.60 -1.35
61230.82 -1.35
61231.20 -1.33
61231.66 -1.31
61232.00 -1.30
61232.50 -1.30
61233.00 -1.29
61233.40 -1.29
61233.80 -1.28
61234.20 -1.27
61234.55 -1.26
61234.90 -1.21
61235.10 -1.25
61235.30 -1.29
61235.70 -1.31
61236.00 -1.33
61236.23 -1.35
61236.60 -1.38
61237.00 -1.40
61237.40 -1.41
61237.75 -1.36
61237.85 -1.31
61238.00 -1.40
61238.20 -1.46
61238.60 -1.47
61239.00 -1.48
61239.30 -1.49
61239.62 -1.50
61240.00 -1.52
61240.50 -1.53
61240.90 -1.51
61241.31 -1.52
61241.80 -1.53
61242.20 -1.54
61242.60 -1.52
61242.90 -1.47
61243.20 -1.52
61243.55 -1.54
61243.85 -1.55
61244.15 -1.57
61244.43 -1.58
61244.70 -1.61
61245.00 -1.63
61245.35 -1.64
61245.70 -1.63
61246.00 -1.61
61246.20 -1.60
61246.45 -1.58
61246.74 -1.57
61247.50 nan
61248.98 -1.46
61249.20 -1.49
61249.51 -1.51
61249.70 -1.49
61249.90 -1.47
61250.10 -1.44
61250.36 -1.41
61250.55 -1.42
61250.75 -1.38
61251.00 -1.37
}\bluetab

\pgfplotstableread{
x y lab
3.045 -12.774 71.1
3.346 -13.115 78.4
3.647 -13.333 46.9
3.948 -13.621 24.2
4.249 -13.971 10.8
4.550 -14.276 5.5
4.851 -14.844 1.5
5.153 -15.160 0.7
5.454 -15.588 0.3
5.755 -15.654 0.2
}\mdev

\pgfplotstableread{
x y lab
3.045 -9.963 1.1
3.346 -10.000 1.0
3.647 -9.920 1.2
3.948 -9.906 1.2
4.249 -9.957 1.1
4.550 -9.953 1.1
4.851 -10.222 0.6
5.153 -10.242 0.6
5.454 -10.368 0.4
5.755 -10.127 0.7
}\tdev

\pgfplotstableread{
x lab
3.255 h/2
3.556 h
4.033 d/8
4.334 d/4
4.635 d/2
4.936 day
5.414 ddd
5.782 wk
}\marks

\begin{document}
\begin{tikzpicture}
\useasboundingbox (0,0) rectangle (595.2pt,842pt);
\pgfplotsset{
  every axis/.append style={
    scale only axis,
    scaled ticks=false,
    axis line style={line width=0.6pt},
    tick style={line width=0.6pt,black},
    tick align=outside,
    major tick length=5.3pt,
    minor tick length=2.7pt,
    tick label style={font=\fontsize{11.3}{13}\selectfont},
    label style={font=\fontsize{12}{14}\selectfont\bfseries},
    xticklabel style={anchor=center,yshift=-9.4pt,inner sep=0pt},
    yticklabel style={anchor=east,xshift=-4.7pt,inner sep=0pt},
  },
}
% ---------------- top panel ----------------
\begin{axis}[
  at={(64.8pt,504pt)}, anchor=south west,
  width=504pt, height=287.8pt,
  xmin=61219, xmax=61251, ymin=-7, ymax=9,
  xtick={61220,61225,61230,61235,61240,61245,61250},
  xticklabels={61220,61225,61230,61235,61240,61245,61250},
  minor xtick={61219,61221,61222,61223,61224,61226,61227,61228,61229,61231,61232,61233,61234,61236,61237,61238,61239,61241,61242,61243,61244,61246,61247,61248,61249,61251},
  ytick={-5,0,5}, yticklabels={−5,0,5},
  xlabel={Modified Julian Date},
  xlabel style={at={(axis description cs:0.5,0)},anchor=center,yshift=-27.2pt},
  ylabel={nanosecond},
  ylabel style={at={(axis description cs:-0.0627,0.5)},anchor=center},
]
\addplot[only marks, mark=x, mark size=1.6pt, black, mark options={line width=0.5pt}]
  table[x=x, y expr=\thisrow{s}+\thisrow{r}] {\resid};
\addplot[dodger, line width=2.4pt, line join=round, unbounded coords=jump]
  table[x=x, y=s] {\bluetab};
\end{axis}
% ---------------- residual panel ----------------
\begin{axis}[
  at={(64.8pt,280.9pt)}, anchor=south west,
  width=504pt, height=179.8pt,
  xmin=61219, xmax=61251, ymin=-1.05, ymax=1.05,
  xtick={61220,61225,61230,61235,61240,61245,61250},
  xticklabels={61220,61225,61230,61235,61240,61245,61250},
  minor xtick={61219,61221,61222,61223,61224,61226,61227,61228,61229,61231,61232,61233,61234,61236,61237,61238,61239,61241,61242,61243,61244,61246,61247,61248,61249,61251},
  ytick={-1,-0.75,-0.5,-0.25,0,0.25,0.5,0.75,1},
  yticklabels={−1.00,−0.75,−0.50,−0.25,0.00,0.25,0.50,0.75,1.00},
  xlabel={Modified Julian Date},
  xlabel style={at={(axis description cs:0.5,0)},anchor=center,yshift=-26.9pt},
  ylabel={residuals (ns)},
  ylabel style={at={(axis description cs:-0.0944,0.5)},anchor=center},
]
\addplot[only marks, mark=x, mark size=1.6pt, black, mark options={line width=0.4pt}]
  table[x=x, y=r] {\resid};
\end{axis}
% ---------------- MDEV panel ----------------
\begin{axis}[
  at={(67.6pt,57.6pt)}, anchor=south west,
  width=215.9pt, height=179.8pt,
  xmin=3, xmax=6, ymin=-16.5, ymax=-11.5,
  clip marker paths=true,
  xtick={3,4,5,6}, xticklabels={3,4,5,6}, minor xtick={3.5,4.5,5.5},
  ytick={-16.5,-16,-15.5,-15,-14.5,-14,-13.5,-13,-12.5,-12,-11.5},
  yticklabels={,−16,,−15,,−14,,−13,,−12,},
  xlabel={Averaging time, log({\mdseries\serifg τ}) (s)},
  xlabel style={at={(axis description cs:0.5,0)},anchor=center,yshift=-27.6pt},
  ylabel={Modified Allan Deviation (10\textsuperscript{-15})},
  ylabel style={at={(axis description cs:-0.178,0.5)},anchor=center},
]
\addplot[only marks, mark=*, mark size=2.5pt, black,
  nodes near coords, point meta=explicit symbolic,
  every node near coord/.append style={anchor=base, yshift=3.9pt, inner sep=0pt,
    text=red, font=\fontsize{7.6}{8}\selectfont\bfseries}]
  table[x=x, y=y, meta=lab] {\mdev};
\addplot[only marks, mark=*, mark size=1.6pt, black,
  nodes near coords, point meta=explicit symbolic,
  every node near coord/.append style={anchor=base, yshift=3.6pt, inner sep=0pt,
    text=red, font=\fontsize{7.6}{8}\selectfont\bfseries}]
  table[x=x, y expr=-16.5, meta=lab] {\marks};
\node[anchor=west, inner sep=0pt, font=\fontsize{6.5}{7}\selectfont\bfseries]
  at (axis cs:3.25,-11.79) {{\mdseries\serifg τ} = 1110s};
\end{axis}
% ---------------- TDEV panel ----------------
\begin{axis}[
  at={(341.4pt,57.6pt)}, anchor=south west,
  width=215.7pt, height=179.8pt,
  xmin=2.755, xmax=6, ymin=-11, ymax=-8.5,
  clip marker paths=true,
  xtick={3,4,5,6}, xticklabels={3,4,5,6}, minor xtick={3.5,4.5,5.5},
  ytick={-11,-10,-9}, yticklabels={−11,−10,−9},
  minor ytick={-10.5,-9.5,-8.5},
  xlabel={Averaging time, log({\mdseries\serifg τ}) (s)},
  xlabel style={at={(axis description cs:0.5,0)},anchor=center,yshift=-27.6pt},
  ylabel={Time deviation (10\textsuperscript{-10} s)},
  ylabel style={at={(axis description cs:-0.179,0.5)},anchor=center},
]
\addplot[only marks, mark=*, mark size=2.3pt, black,
  nodes near coords, point meta=explicit symbolic,
  every node near coord/.append style={anchor=base, yshift=7.3pt, inner sep=0pt,
    text=red, font=\fontsize{6.6}{7}\selectfont\bfseries}]
  table[x=x, y=y, meta=lab] {\tdev};
\addplot[only marks, mark=*, mark size=1.6pt, black,
  nodes near coords, point meta=explicit symbolic,
  every node near coord/.append style={anchor=base, yshift=7.2pt, inner sep=0pt,
    text=red, font=\fontsize{7.6}{8}\selectfont\bfseries}]
  table[x=x, y expr=-11, meta=lab] {\marks};
\end{axis}
% ---------------- annotations ----------------
\begin{scope}[every node/.style={anchor=base west, inner sep=0pt, font=\fontsize{12}{14}\selectfont\bfseries}]
\node at (80.2pt,518.4pt) {\_2607\_CHPTB\_CH04PT13.T3sA5};
\node at (284.3pt,518.4pt) {TW SDR (x\textsubscript{black}) ,};
\node at (384.3pt,518.4pt) {GPSPPP (o\textsubscript{blue})};
\node at (476.2pt,518.4pt) {2473Ep};
\end{scope}
\node[anchor=base west, inner sep=0pt, font=\fontsize{10}{12}\selectfont\bfseries]
  at (81.2pt,289.6pt) {Max Smoothing Residual: \_\_356.468\_\_358.723\_\_357.262\ \ Sigma= 0.243ns-MeanRmved};
\end{tikzpicture}
\end{document}
